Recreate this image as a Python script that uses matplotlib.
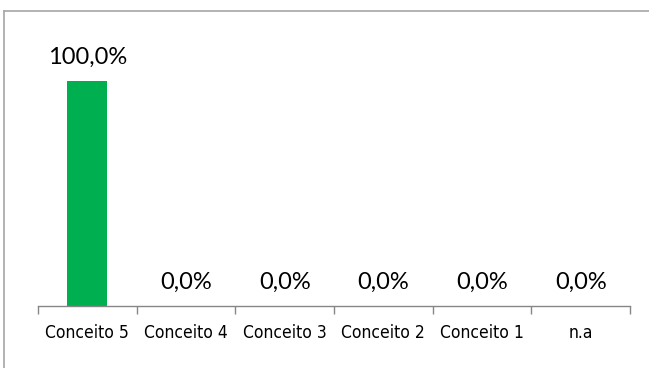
import matplotlib
matplotlib.use('Agg')
import matplotlib.pyplot as plt
from matplotlib.lines import Line2D

categorias = ['Conceito 5', 'Conceito 4', 'Conceito 3', 'Conceito 2', 'Conceito 1', 'n.a']
valores = [100.0, 0.0, 0.0, 0.0, 0.0, 0.0]
rotulos = ['100,0%', '0,0%', '0,0%', '0,0%', '0,0%', '0,0%']

W, H = 649, 368
fig = plt.figure(figsize=(W / 100, H / 100), dpi=100)

# moldura cinza do grafico (so aparecem o topo e a esquerda)
bx, by = 3.5 / W, 1 - 10.5 / H
fig.add_artist(Line2D([bx, 1.0], [by, by], transform=fig.transFigure, color='#a6a6a6', lw=1.2))
fig.add_artist(Line2D([bx, bx], [0.0, by], transform=fig.transFigure, color='#a6a6a6', lw=1.2))

ax = fig.add_axes([38 / W, (H - 306) / H, (630 - 38) / W, (306 - 36) / H])
x = list(range(len(categorias)))
ax.bar(x, valores, width=0.405, color='#00b050')
ax.set_xlim(-0.5, len(categorias) - 0.5)
ax.set_ylim(0, 120)

for xi, v, r in zip(x, valores, rotulos):
    ax.text(xi, v + 6, r, ha='center', va='bottom', fontsize=17, family=['Lato', 'DejaVu Sans'],
            color='#000000')

for s in ['top', 'right', 'left']:
    ax.spines[s].set_visible(False)
ax.spines['bottom'].set_color('#868686')
ax.spines['bottom'].set_linewidth(1.0)
ax.set_yticks([])
ax.set_xticks([i - 0.5 for i in range(len(categorias) + 1)], minor=False)
ax.set_xticklabels([])
ax.tick_params(axis='x', length=6, color='#868686', width=1.0, direction='out')
ax.set_xticks(x, minor=True)
ax.set_xticklabels(categorias, minor=True, fontsize=12.5, fontstretch='condensed',
                   family=['DejaVu Sans'])
ax.tick_params(axis='x', which='minor', length=0, pad=13)

fig.savefig('out.png', dpi=100)
